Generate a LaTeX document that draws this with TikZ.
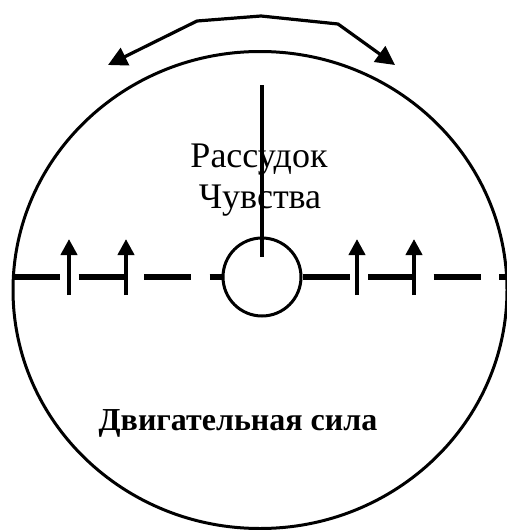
\documentclass[tikz,border=0pt]{standalone}
\usepackage{fontspec}
\setmainfont{Liberation Serif}
\usetikzlibrary{arrows.meta,positioning,calc}
\tikzset{
  rim/.style={line width=1.5pt},
  axis/.style={line width=2.75pt,dash pattern=on 23.5pt off 9.25pt},
  lift/.style={-{Triangle[length=8pt,width=8pt]},line width=2pt},
  swing/.style={{Triangle[length=9.5pt,width=9.5pt]}-{Triangle[length=9.5pt,width=9.5pt]},%
    line width=1.6pt,line join=round},
  lbl/.style={font=\fontsize{18}{20}\selectfont,inner sep=0pt,anchor=base},
}

\begin{document}
\begin{tikzpicture}[x=0.5pt,y=-0.5pt]
\useasboundingbox (0,0) rectangle (507,530);
\draw[rim] (260,290) ellipse [x radius=247, y radius=238.5];
\node[draw,circle,line width=1.5pt,minimum size=39pt,inner sep=0pt,fill=white] (hub) at (262,277) {};
\coordinate (wl) at (13,277);
\coordinate (wr) at (507,277);
\draw[axis] (wl) -- (hub.west);
\draw[axis] (hub.east) -- (wr);
\foreach \x in {69,126,357,414}
  \draw[lift] (\x,295) -- (\x,239);
\node[lbl] (mind) at (259,167) {Рассудок};
\node[lbl] (feel) at (260,208) {Чувства};
\node[lbl,font=\fontsize{16}{18}\selectfont\bfseries] (drive) at (238,430) {Двигательная сила};
\coordinate (spoke) at (262,85);
\draw[line width=2pt] (spoke) -- ($(hub.center)+(0,-20)$);
\draw[swing] (108,65) -- (197,21) -- (261,16) -- (338,24) -- (395,65);
\end{tikzpicture}
\end{document}
